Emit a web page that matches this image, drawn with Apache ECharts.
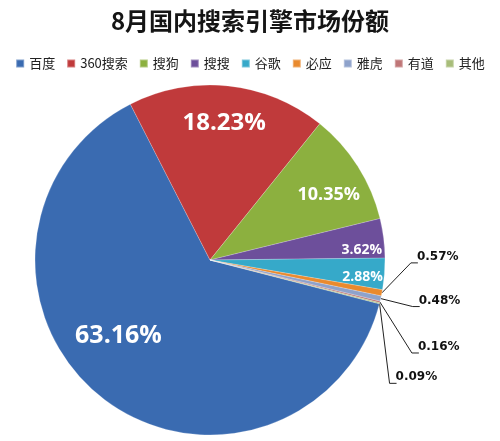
<!DOCTYPE html>
<html><head><meta charset="utf-8">
<script src="https://cdn.jsdelivr.net/npm/echarts@6/dist/echarts.min.js"></script>
<style>html,body{margin:0;padding:0;background:#fff}#c{width:500px;height:441px}</style>
</head><body><div id="c"></div><script>
const titleText = '8月国内搜索引擎市场份额';
const categories = ['百度', '360搜索', '搜狗', '搜搜', '谷歌', '必应', '雅虎', '有道', '其他'];
const shares = [63.16, 18.23, 10.35, 3.62, 2.88, 0.57, 0.48, 0.16, 0.09];
const sliceColors = ['#3A6BB1', '#C03A3B', '#8CB03F', '#6D4F9B', '#36A9C9', '#E98A2E', '#8EA2CB', '#BF7677', '#A8BD7A'];

// inside labels (slice index, label ring radius, font size, nudge)
const insideIdx = [0, 1, 2, 3, 4];
const insideRadius = [113, 135, 133, 150, 150];
const insideFont = [25, 24, 18, 14, 14];
const insideNudge = [[-19, -15], [0, 0], [4, 8], [0, 9], [0, 5]];
// callout labels (slice index, offset of label from slice anchor)
const calloutIdx = [5, 6, 7, 8];
const calloutOffset = [[35, -36], [38, 2], [38, 45], [16, 74]];

const center = [210, 260];
const R = 175;
const startAngle = -14.5;
const fmt = p => p.value.toFixed(2) + '%';

const series = [{
  type: 'pie', center: center, radius: R, startAngle: startAngle, clockwise: true,
  avoidLabelOverlap: false, emphasis: { disabled: true },
  itemStyle: { borderColor: 'rgba(255,255,255,0.35)', borderWidth: 0.6 },
  data: categories.map((n, i) => ({
    name: n, value: shares[i], itemStyle: { color: sliceColors[i] },
    label: { show: calloutIdx.includes(i) }, labelLine: { show: calloutIdx.includes(i) }
  })),
  label: { position: 'outside', formatter: fmt, color: '#111', fontFamily: 'DejaVu Sans', fontWeight: 'bold', fontSize: 12 },
  labelLine: { length: 10, length2: 10, lineStyle: { color: '#222', width: 1 } },
  labelLayout: function (p) {
    const k = calloutIdx.indexOf(p.dataIndex);
    if (k < 0 || !p.labelLinePoints) return {};
    const a = p.labelLinePoints[0];
    const x = a[0] + calloutOffset[k][0], y = a[1] + calloutOffset[k][1];
    return {
      x: x, y: y, align: 'left', verticalAlign: 'middle',
      labelLinePoints: [[a[0], a[1]], [x - 6, y + 6], [x + 1, y + 6]]
    };
  }
}];

insideIdx.forEach((idx, k) => {
  series.push({
    type: 'pie', center: center, radius: [insideRadius[k] - 8, insideRadius[k] + 8],
    startAngle: startAngle, clockwise: true, silent: true, z: 5, legendHoverLink: false,
    emphasis: { disabled: true }, avoidLabelOverlap: false,
    itemStyle: { color: 'rgba(0,0,0,0)' },
    data: categories.map((n, i) => ({ name: n, value: shares[i], label: { show: i === idx } })),
    label: { position: 'inside', formatter: fmt, color: '#fff', fontFamily: 'Open Sans', fontWeight: 'bold', fontSize: insideFont[k] },
    labelLine: { show: false },
    labelLayout: { dx: insideNudge[k][0], dy: insideNudge[k][1] }
  });
});

const chart = echarts.init(document.getElementById('c'));
chart.setOption({
  animation: false,
  backgroundColor: '#fff',
  title: { text: titleText, left: 'center', top: 4,
    textStyle: { fontFamily: 'Noto Sans CJK SC', fontSize: 24, fontWeight: 'bold', color: '#151515' } },
  legend: { top: 52, left: 'center', icon: 'rect', itemWidth: 8, itemHeight: 8, itemGap: 11,
    data: categories,
    textStyle: { fontFamily: 'Noto Sans CJK SC', fontSize: 13, color: '#222' } },
  series: series
});
</script></body></html>
